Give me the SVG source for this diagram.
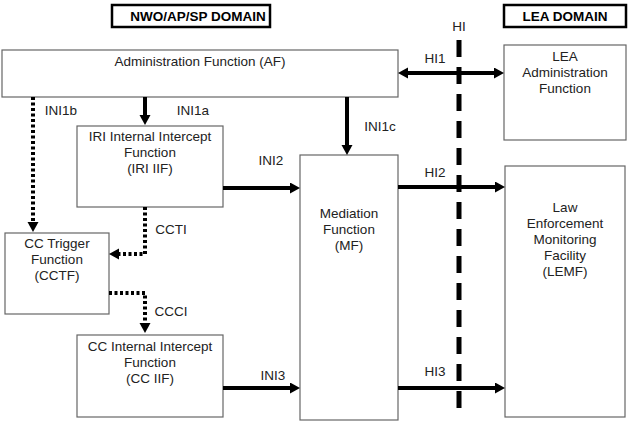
<svg xmlns="http://www.w3.org/2000/svg" width="628" height="425" viewBox="0 0 628 425">
<style>
  .box{fill:#fff;stroke:#666;stroke-width:1.2}
  .dom{fill:#fff;stroke:#000;stroke-width:2.5}
  text{font-family:"Liberation Sans",Arial,sans-serif;font-size:13.5px;fill:#222;text-anchor:middle}
  .b{font-weight:bold;fill:#000}
  .lbl{text-anchor:start}
  .ar{fill:none;stroke:#000;stroke-width:4}
  .dot{fill:none;stroke:#000;stroke-width:4;stroke-dasharray:3 2.5}
  .hi{fill:none;stroke:#000;stroke-width:5;stroke-dasharray:17 10}
</style>
<defs>
  <marker id="ah" markerUnits="userSpaceOnUse" markerWidth="12" markerHeight="12" refX="2" refY="5.5" orient="auto-start-reverse">
    <path d="M0,0 L10,5.5 L0,11 z" fill="#000"/>
  </marker>
</defs>
<rect width="628" height="425" fill="#fff"/>

<g id="nwo-domain">
  <rect class="dom" x="112" y="5" width="158" height="22"/>
  <text class="b" x="198" y="21">NWO/AP/SP DOMAIN</text>
</g>
<g id="lea-domain">
  <rect class="dom" x="504" y="5" width="122" height="22"/>
  <text class="b" x="565" y="21">LEA DOMAIN</text>
</g>

<g id="hi-line">
  <line class="hi" x1="459" y1="40" x2="459" y2="416"/>
  <text x="459" y="31">HI</text>
</g>

<g id="af">
  <rect class="box" x="2" y="50" width="396" height="47"/>
  <text x="200" y="66">Administration Function (AF)</text>
</g>
<g id="lea-af">
  <rect class="box" x="504" y="45" width="122" height="95"/>
  <text x="565" y="61">LEA<tspan x="565" dy="16">Administration</tspan><tspan x="565" dy="16">Function</tspan></text>
</g>
<g id="iri-iif">
  <rect class="box" x="77" y="126" width="146" height="81"/>
  <text x="150" y="141">IRI Internal Intercept<tspan x="150" dy="16">Function</tspan><tspan x="150" dy="16">(IRI IIF)</tspan></text>
</g>
<g id="mf">
  <rect class="box" x="300" y="155" width="98" height="265"/>
  <text x="349" y="218">Mediation<tspan x="349" dy="16">Function</tspan><tspan x="349" dy="16">(MF)</tspan></text>
</g>
<g id="lemf">
  <rect class="box" x="505" y="166" width="120" height="251"/>
  <text x="565" y="212">Law<tspan x="565" dy="16">Enforcement</tspan><tspan x="565" dy="16">Monitoring</tspan><tspan x="565" dy="16">Facility</tspan><tspan x="565" dy="16">(LEMF)</tspan></text>
</g>
<g id="cctf">
  <rect class="box" x="5" y="233" width="104" height="81"/>
  <text x="57" y="248">CC Trigger<tspan x="57" dy="16">Function</tspan><tspan x="57" dy="16">(CCTF)</tspan></text>
</g>
<g id="cc-iif">
  <rect class="box" x="77" y="335" width="146" height="82"/>
  <text x="150" y="351">CC Internal Intercept<tspan x="150" dy="16">Function</tspan><tspan x="150" dy="16">(CC IIF)</tspan></text>
</g>

<g id="connectors">
  <path class="ar" d="M406,73 H496" marker-start="url(#ah)" marker-end="url(#ah)"/>
  <path class="ar" d="M145,97 V117" marker-end="url(#ah)"/>
  <path class="dot" d="M33,97 V224" marker-end="url(#ah)"/>
  <path class="ar" d="M347,97 V147" marker-end="url(#ah)"/>
  <path class="ar" d="M223,188 H292" marker-end="url(#ah)"/>
  <path class="ar" d="M398,187 H497" marker-end="url(#ah)"/>
  <path class="dot" d="M145,207 V254 H117" marker-end="url(#ah)"/>
  <path class="dot" d="M109,293 H145 V325" marker-end="url(#ah)"/>
  <path class="ar" d="M223,388 H292" marker-end="url(#ah)"/>
  <path class="ar" d="M398,388 H497" marker-end="url(#ah)"/>

  <text x="435" y="63">HI1</text>
  <text x="61" y="115">INI1b</text>
  <text x="193" y="115">INI1a</text>
  <text x="380" y="131">INI1c</text>
  <text x="271" y="165">INI2</text>
  <text x="435" y="177">HI2</text>
  <text x="171" y="234">CCTI</text>
  <text x="171" y="316">CCCI</text>
  <text x="273" y="380">INI3</text>
  <text x="435" y="376">HI3</text>
</g>
</svg>
